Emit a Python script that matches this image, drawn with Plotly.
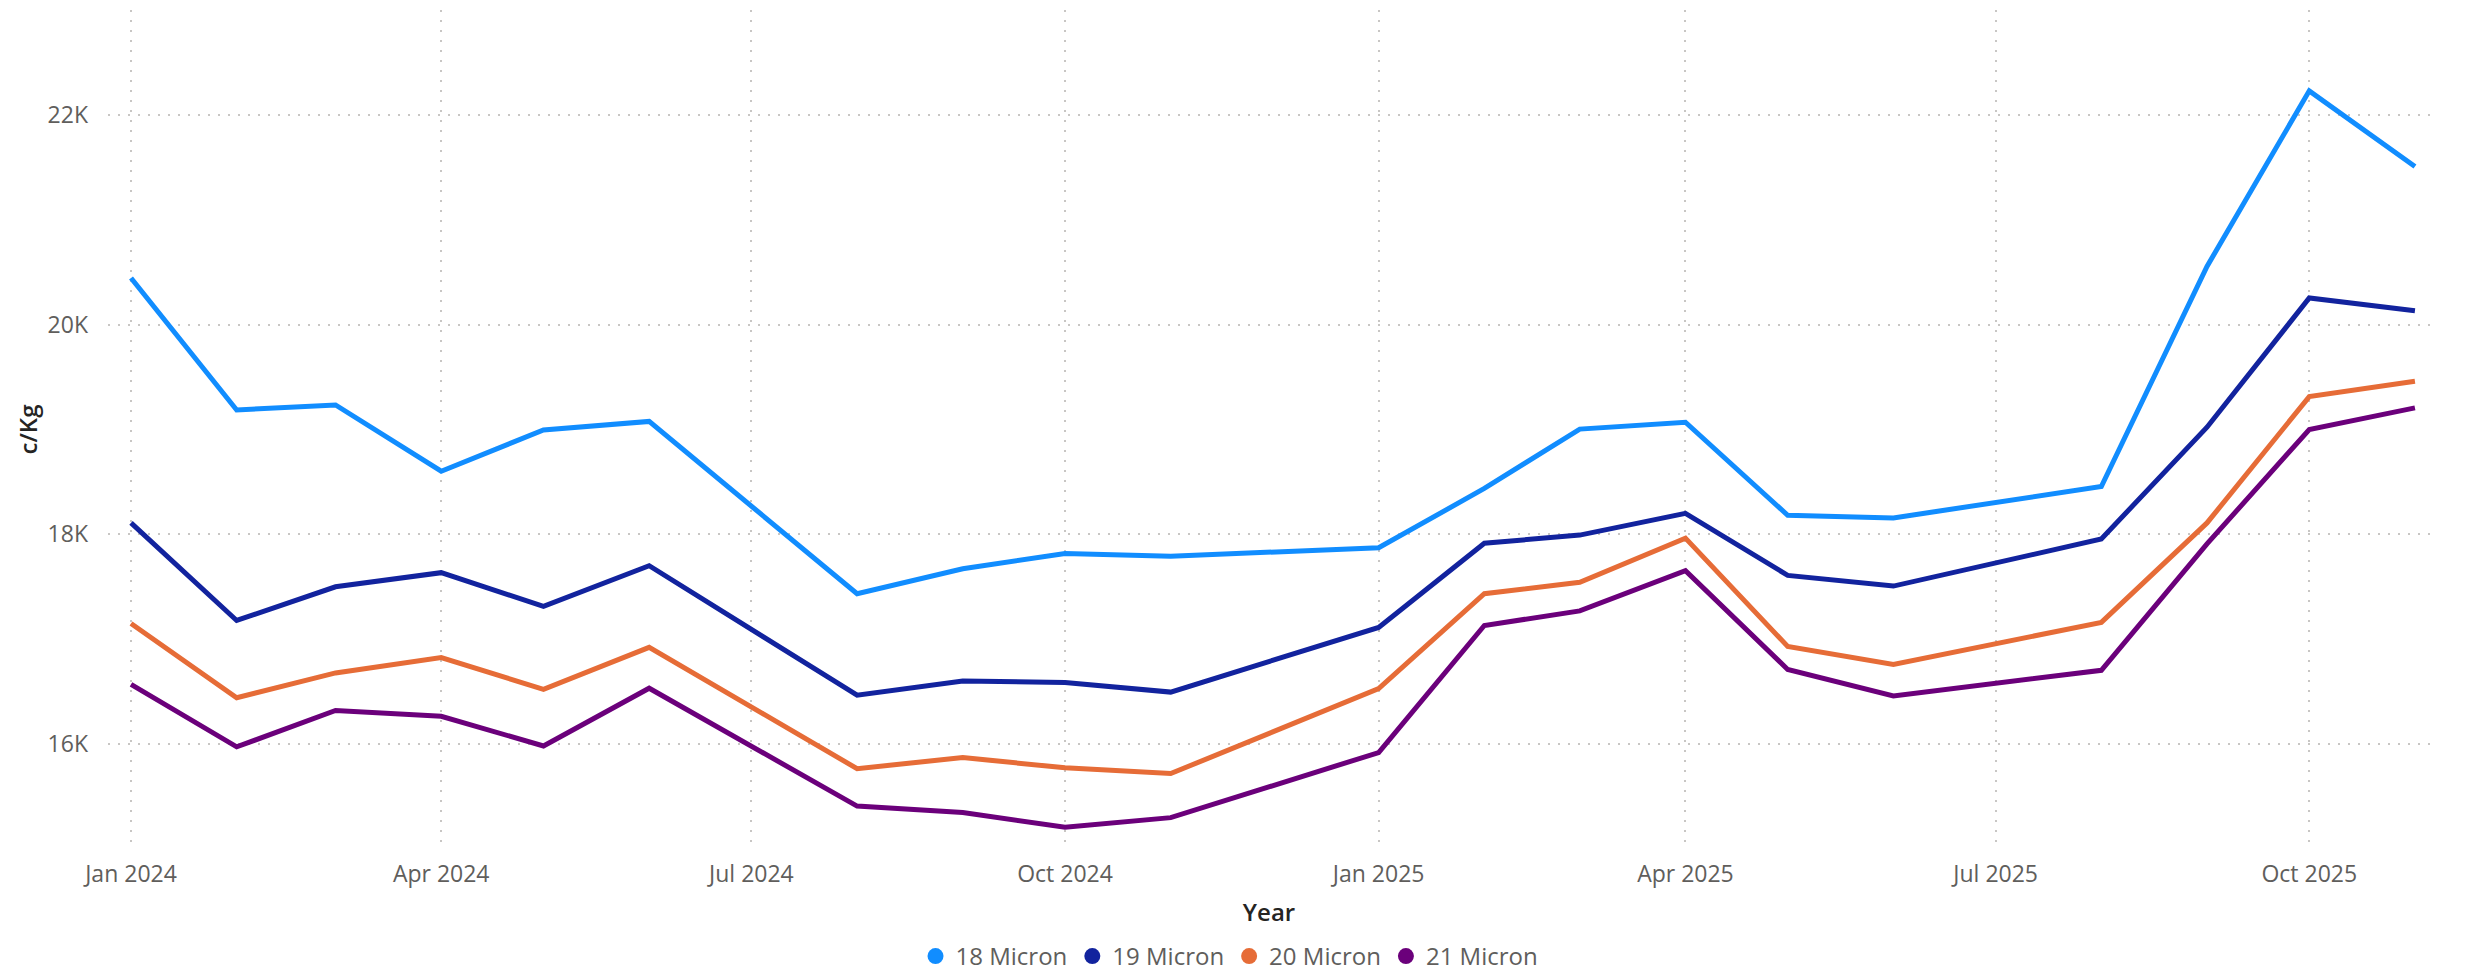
import plotly.graph_objects as go

months = ["2024-01-01", "2024-02-01", "2024-03-01", "2024-04-01", "2024-05-01", "2024-06-01",
          "2024-08-01", "2024-09-01", "2024-10-01", "2024-11-01",
          "2025-01-01", "2025-02-01", "2025-03-01", "2025-04-01", "2025-05-01", "2025-06-01",
          "2025-08-01", "2025-09-01", "2025-10-01", "2025-11-01"]

micron_18 = [20445, 19186, 19234, 18602, 18996, 19077, 17434, 17672, 17818, 17792,
             17872, 18438, 19004, 19069, 18182, 18157, 18456, 20555, 22229, 21508]
micron_19 = [18109, 17179, 17500, 17635, 17314, 17701, 16467, 16602, 16588, 16496,
             17113, 17916, 17993, 18201, 17609, 17507, 17956, 19022, 20254, 20133]
micron_20 = [17150, 16442, 16679, 16825, 16522, 16923, 15766, 15872, 15774, 15719,
             16529, 17434, 17544, 17964, 16931, 16759, 17161, 18109, 19314, 19460]
micron_21 = [16569, 15974, 16321, 16266, 15982, 16533, 15409, 15347, 15208, 15299,
             15920, 17131, 17270, 17653, 16712, 16460, 16704, 17909, 19000, 19206]

series_names = ["18 Micron", "19 Micron", "20 Micron", "21 Micron"]
series_colors = ["#118DFF", "#12239E", "#E66C37", "#6B007B"]

y_tick_values = [16000, 18000, 20000, 22000]
y_tick_labels = ["16K", "18K", "20K", "22K"]
x_tick_values = ["2024-01-01", "2024-04-01", "2024-07-01", "2024-10-01",
                 "2025-01-01", "2025-04-01", "2025-07-01", "2025-10-01"]
x_tick_labels = ["Jan 2024", "Apr 2024", "Jul 2024", "Oct 2024",
                 "Jan 2025", "Apr 2025", "Jul 2025", "Oct 2025"]

FONT = "Segoe UI, Open Sans, sans-serif"
fig = go.Figure()
for name, vals, col in zip(series_names, [micron_18, micron_19, micron_20, micron_21], series_colors):
    fig.add_trace(go.Scatter(x=months, y=vals, mode="lines", name=name,
                             line=dict(color=col, width=5), showlegend=False))
for name, col in zip(series_names, series_colors):
    fig.add_trace(go.Scatter(x=[None], y=[None], mode="markers", name=name,
                             marker=dict(color=col, size=16, symbol="circle"), showlegend=True))

grid_dash = "2px,8px"
fig.update_layout(
    template="none",
    width=2471, height=977,
    margin=dict(l=108, r=41, t=10, b=128, autoexpand=False),
    paper_bgcolor="white", plot_bgcolor="white",
    font=dict(family=FONT, size=23, color="#605E5C"),
    showlegend=True,
    legend=dict(orientation="h", x=0.483, xanchor="center",
                yref="container", y=0.021, yanchor="middle",
                font=dict(size=24, color="#605E5C"), itemwidth=30, itemclick=False,
                bgcolor="rgba(0,0,0,0)"),
    xaxis=dict(type="date", range=["2023-12-25 06:00", "2025-11-05 10:00"],
               tickvals=x_tick_values, ticktext=x_tick_labels, automargin=False,
               showgrid=True, gridcolor="#C8C6C4", gridwidth=1.5, griddash=grid_dash,
               zeroline=False, showline=False, ticks="", ticklabelstandoff=9,
               tickfont=dict(size=23, color="#605E5C"),
               title=dict(text="Year", standoff=16,
                          font=dict(size=24, color="#252423", weight=600))),
    yaxis=dict(range=[15000, 23000], tickvals=y_tick_values, ticktext=y_tick_labels,
               automargin=False,
               showgrid=True, gridcolor="#C8C6C4", gridwidth=1.5, griddash=grid_dash,
               zeroline=False, showline=False, ticks="", ticklabelstandoff=19,
               tickfont=dict(size=23, color="#605E5C"),
               title=dict(text="c/Kg", standoff=3,
                          font=dict(size=24, color="#252423", weight=600))),
)
fig.write_html("out.html", config={"displayModeBar": False},
               post_script="document.body.style.margin='0';document.body.style.overflow='hidden';")
